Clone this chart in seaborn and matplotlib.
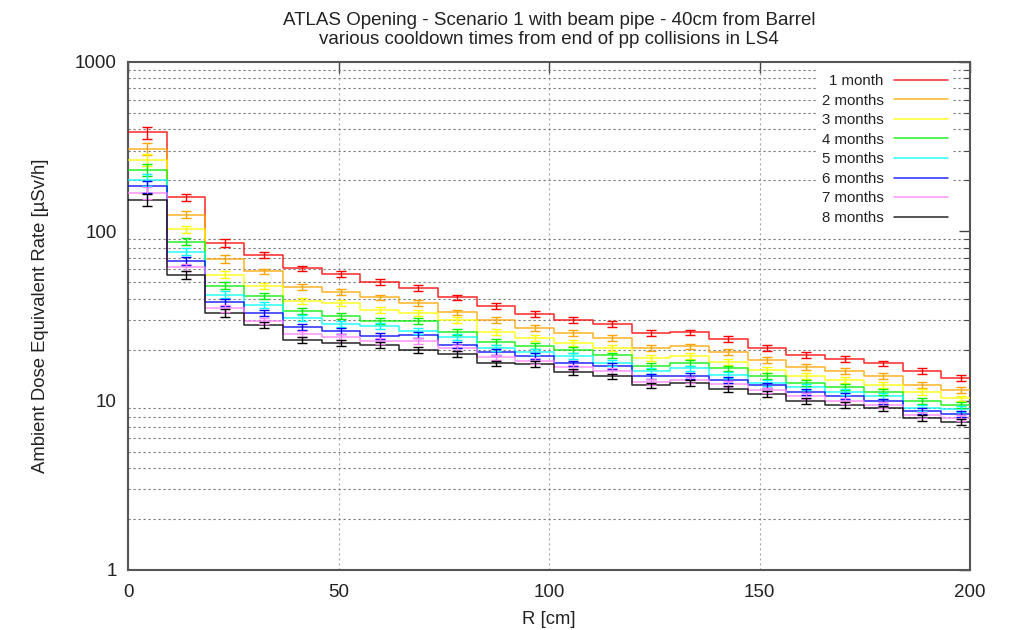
import numpy as np
import pandas as pd
import matplotlib
matplotlib.use("Agg")
import matplotlib.pyplot as plt
import seaborn as sns
from matplotlib.ticker import LogLocator, NullFormatter, FixedLocator, FixedFormatter

# ---------------- data ----------------
bin_width = 9.2  # cm
series_labels = ["1 month", "2 months", "3 months", "4 months",
                 "5 months", "6 months", "7 months", "8 months"]
series_colors = ["#ff0000", "#ffa500", "#ffff00", "#00ee00",
                 "#00ffff", "#0000ff", "#ff80ff", "#000000"]

month1 = [384, 159, 85.4, 72.8, 60.4, 56.0, 50.0, 46.3, 40.7, 36.4, 32.5,
          30.0, 28.4, 25.0, 25.3, 23.1, 20.5, 18.6, 17.6, 16.6, 14.9, 13.7]
month2 = [307, 125.5, 68.7, 58.0, 47.1, 44.0, 40.7, 37.6, 33.2, 30.0, 26.9,
          25.0, 23.5, 20.5, 20.9, 19.3, 17.5, 15.9, 14.9, 14.0, 12.4, 11.6]
month3 = [264, 103, 55.5, 47.8, 39.0, 37.6, 34.5, 33.0, 30.0, 25.6, 23.5,
          21.9, 20.6, 17.9, 18.3, 17.0, 15.2, 14.0, 13.3, 12.4, 11.2, 10.3]
month4 = [230, 87, 47.8, 41.7, 33.8, 31.8, 29.7, 29.7, 25.6, 22.3, 21.1,
          20.0, 18.5, 16.1, 16.7, 15.5, 14.0, 12.8, 12.1, 11.3, 10.0, 9.46]
month5 = [202, 75.9, 42.3, 36.7, 30.7, 28.4, 27.7, 25.9, 23.7, 20.6, 19.5,
          18.3, 16.8, 15.0, 15.5, 14.2, 12.8, 12.0, 11.2, 10.6, 9.05, 8.9]
month6 = [184, 66.8, 38.1, 33.0, 27.4, 25.9, 24.2, 24.4, 21.4, 19.3, 18.3,
          16.6, 16.1, 13.9, 14.0, 13.3, 12.3, 11.2, 10.6, 9.9, 8.73, 8.35]
month7 = [169, 61.3, 35.1, 29.7, 24.8, 23.7, 22.6, 22.6, 20.6, 18.0, 17.2,
          15.7, 14.9, 12.9, 13.3, 12.5, 11.5, 10.7, 10.0, 9.46, 8.27, 7.9]
month8 = [154, 55.2, 33.0, 28.1, 22.9, 21.9, 21.3, 20.0, 18.9, 16.6, 16.5,
          14.7, 13.9, 12.3, 12.7, 11.7, 11.0, 10.0, 9.46, 9.0, 7.9, 7.45]
rel_err = [0.08, 0.05, 0.05, 0.04, 0.04, 0.04, 0.04, 0.04, 0.04, 0.04, 0.04,
           0.04, 0.04, 0.04, 0.04, 0.04, 0.04, 0.04, 0.04, 0.04, 0.04, 0.04]

all_series = [month1, month2, month3, month4, month5, month6, month7, month8]

x_ticks = [0, 50, 100, 150, 200]
y_ticks = [1, 10, 100, 1000]
y_ticklabels = ["1", "10", "100", "1000"]

title = ("ATLAS Opening - Scenario 1 with beam pipe - 40cm from Barrel\n"
         "various cooldown times from end of pp collisions in LS4")
x_label = "R [cm]"
y_label = "Ambient Dose Equivalent Rate [\u00b5Sv/h]"

# ---------------- tables ----------------
n_bins = len(month1)
edges = np.arange(n_bins + 1) * bin_width
centers = edges[:-1] + bin_width / 2

step_rows = []
for lab, vals in zip(series_labels, all_series):
    yv = list(vals) + [vals[-1]]
    for xe, v in zip(edges, yv):
        step_rows.append({"R": xe, "rate": v, "series": lab})
steps_df = pd.DataFrame(step_rows)

# ---------------- style ----------------
sns.set_theme(style="white")
plt.rcParams["font.family"] = ["Liberation Sans", "DejaVu Sans"]
plt.rcParams["text.color"] = "#222222"
plt.rcParams["axes.labelcolor"] = "#222222"
plt.rcParams["xtick.color"] = "#444444"
plt.rcParams["ytick.color"] = "#444444"

fig = plt.figure(figsize=(10.11, 6.30), dpi=100)
ax = fig.add_axes([128 / 1011, 1 - 570 / 630, (970 - 128) / 1011, (570 - 62) / 630])

sns.lineplot(data=steps_df, x="R", y="rate", hue="series",
             hue_order=series_labels, palette=series_colors,
             drawstyle="steps-post", estimator=None, sort=False,
             linewidth=1.1, alpha=0.85, ax=ax, legend=True, zorder=3)

for lab, col, vals in zip(series_labels, series_colors, all_series):
    v = np.array(vals)
    e = v * np.array(rel_err)
    ax.errorbar(centers, v, yerr=e, fmt="none", ecolor=col, elinewidth=1.0,
                capsize=3.5, capthick=1.0, zorder=4)

ax.set_yscale("log")
ax.set_xlim(0, 200)
ax.set_ylim(1, 1000)

ax.xaxis.set_major_locator(FixedLocator(x_ticks))
ax.yaxis.set_major_locator(FixedLocator(y_ticks))
ax.yaxis.set_major_formatter(FixedFormatter(y_ticklabels))
ax.yaxis.set_minor_locator(LogLocator(base=10, subs=np.arange(2, 10)))
ax.yaxis.set_minor_formatter(NullFormatter())

ax.grid(False)
ax.grid(True, which="minor", axis="y", color="#777777", linestyle=(0, (2, 2.5)),
        linewidth=0.8, zorder=0)
ax.grid(True, which="major", axis="x", color="#aaaaaa", linestyle=(0, (2, 2.5)),
        linewidth=0.8, zorder=0)

ax.tick_params(which="both", direction="in", top=True, right=True,
               labelsize=13.5, colors="#444444", labelcolor="#222222")
ax.tick_params(which="major", length=8, width=1.0, pad=8)
ax.tick_params(axis="x", which="major", pad=10)
ax.tick_params(which="minor", length=4, width=0.8)
for sp in ax.spines.values():
    sp.set_color("#555555")
    sp.set_linewidth(1.5)

ax.set_xlabel(x_label, fontsize=13.3, labelpad=7)
ax.set_ylabel(y_label, fontsize=13.3, labelpad=19)
ax.set_title(title, fontsize=13.5, pad=13, linespacing=1.15)

handles, labels = ax.get_legend_handles_labels()
leg = ax.legend(handles, labels, loc="upper right", bbox_to_anchor=(0.988, 1.0),
                markerfirst=False, frameon=True, fontsize=10.8,
                handlelength=3.6, labelspacing=0.37, borderpad=0.3,
                handletextpad=0.7, fancybox=False)
leg.get_frame().set_edgecolor("none")
leg.get_frame().set_facecolor("white")
leg.get_frame().set_alpha(1.0)
for t in leg.get_texts():
    t.set_color("#222222")

fig.savefig("out.png", dpi=100)
